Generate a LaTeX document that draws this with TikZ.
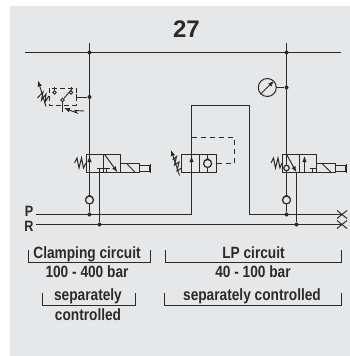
\documentclass[tikz,border=0pt]{standalone}
\usepackage{fontspec}
\setmainfont{Liberation Sans}[FakeStretch=0.84]
\newfontfamily\titlefont{Liberation Sans}
\usetikzlibrary{arrows.meta}
\definecolor{panel}{HTML}{E6E7E8}
\definecolor{ink}{HTML}{2B2A2A}
\tikzset{
  pipe/.style={draw=ink,line width=1pt},
  pilot/.style={draw=ink,line width=1pt,dash pattern=on 5pt off 4pt},
  thin/.style={draw=ink,line width=0.9pt},
  jdot/.style={circle,fill=ink,inner sep=0pt,minimum size=4pt},
  cell/.style={draw=ink,line width=1pt,minimum width=17.4pt,minimum height=18pt,inner sep=0pt},
  check/.style={draw=ink,fill=panel,circle,line width=1.2pt,minimum size=8pt,inner sep=0pt},
  contact/.style={draw=ink,fill=panel,circle,line width=.8pt,minimum size=3.5pt,inner sep=0pt},
  flow/.style={-{Latex[length=6pt,width=4.5pt]}},
  lbl/.style={anchor=base,font=\bfseries\fontsize{16.3}{16.3}\selectfont,text=ink,inner sep=0pt},
}
\begin{document}
\begin{tikzpicture}[x=1pt,y=-1pt]
\useasboundingbox (0,0) rectangle (350,356);
\fill[panel] (10,6) rectangle (350,356);
\node[lbl,font=\titlefont\bfseries\fontsize{24}{24}\selectfont] (title) at (186.5,37) {27};
\node[lbl,font=\bfseries\fontsize{15}{15}\selectfont] (plabel) at (29,216.5) {P};
\node[lbl,font=\bfseries\fontsize{15}{15}\selectfont] (rlabel) at (29,231.5) {R};

% main lines
\path (25,52.5) coordinate (topl) (341,52.5) coordinate (topr);
\path (36,214.5) coordinate (pl) (36,224.5) coordinate (rl);
\path (342,214.5) coordinate (pr) (342,224.5) coordinate (rr);
\path (89.5,43) coordinate (atop) (286.5,43) coordinate (ctop);
\node[jdot] (ja) at (89.5,52.5) {};
\node[jdot] (jc) at (286.5,52.5) {};
\node[jdot] (jsw) at (89.5,97) {};
\node[jdot] (jg) at (286.5,87.5) {};
\node[jdot] (jap) at (89.5,214.5) {};
\node[jdot] (jar) at (99.5,224.5) {};
\node[jdot] (jcp) at (286.5,214.5) {};
\node[jdot] (jcr) at (296.5,224.5) {};
\draw[pipe] (topl) -- (topr);
\draw[pipe] (atop) -- (jap);
\draw[pipe] (ctop) -- (jcp);
\draw[pipe] (rl) -- (rr);
\draw[pipe] (pl) -- (191.5,214.5) -- (191.5,105.5) -- (249.5,105.5) -- (249.5,214.5) -- (pr);
\draw[pipe] (jar) -- (99.5,168.5);
\draw[pipe] (jcr) -- (296.5,172);

% line ends
\foreach \n/\yy in {pe/214.5,re/224.5}{
  \path (342,\yy) coordinate (\n);
  \draw[pipe] (\n) + (-5,-4) -- +(5,4);
  \draw[pipe] (\n) + (-5,4) -- +(5,-4);
}

% valve a
\node[cell] (va1) at (94.7,163.3) {};
\node[cell] (va2) at (112.1,163.3) {};
\draw[pipe] (120.8,163.5) -- ++(18.8,0) -- ++(0,8.8) -- ++(-18.8,0);
\draw[thin] (126.7,163.5) -- (135,172.3);
\draw[pipe] (139.5,165.5) rectangle (149.5,171);
\draw[pipe] (150,163.5) -- (150,172.5);
\draw[pipe] (74.5,163) -- (77,158) -- (79,168) -- (81.5,158) -- (83.5,168) -- (86,163);
\draw[thin,flow] (89.5,168) -- (89.5,156);
\draw[pipe,flow] (104.5,154.3) -- (117.5,172.3);
\draw[thin] (96.5,168.5) -- (102.5,168.5);
\draw[thin] (106.5,172) -- (106.5,168.5) (103.5,168.5) -- (109.5,168.5);
\node[check] (cva) at (89.5,200) {};
\draw[thin] (86,198) -- (89.5,195) -- (93,198);

% valve b
\node[cell] (vb1) at (190.4,163.3) {};
\node[cell] (vb2) at (207.8,163.3) {};
\draw[pipe,flow] (191.5,172) -- (191.5,156);
\draw[thin] (207.6,154.3) -- (207.6,172.3);
\node[check] (cvb) at (207.6,163.5) {};
\draw[thin] (204,161.5) -- (207.6,158.5) -- (211.2,161.5);
\draw[pipe] (172.5,160) -- (176.5,156.5) -- (174.5,165) -- (179,162) -- (177,171) -- (181.7,168);
\draw[thin,flow] (179.5,175.5) -- (171,150);
\draw[pilot] (191.5,137.5) -- (234,137.5) -- (234,163.5) -- (216.7,163.5);

% valve c
\node[cell] (vc1) at (290.7,163.3) {};
\node[cell] (vc2) at (308.1,163.3) {};
\draw[pipe] (316.7,163.5) -- ++(18.5,0) -- ++(0,8.8) -- ++(-18.5,0);
\draw[thin] (322,163.5) -- (331,172.3);
\draw[pipe] (335.2,165.5) rectangle (345,171);
\draw[pipe] (346,163.5) -- (346,172.5);
\draw[pipe] (271,163) -- (273.5,158) -- (275.5,168) -- (278,158) -- (280,168) -- (282,163);
\draw[pipe,flow] (286.5,154.3) -- (296.5,172.3);
\draw[thin,flow] (304.5,172) -- (304.5,156);
\draw[thin] (312.5,172) -- (312.5,168.5) (309.5,168.5) -- (315.5,168.5);
\node[check,minimum size=5.5pt] (cvc) at (286.5,168) {};
\node[check] (cvd) at (286.5,200) {};
\draw[thin] (283,198) -- (286.5,195) -- (290,198);

% gauge
\node[draw=ink,circle,line width=1pt,minimum size=18pt,inner sep=0pt] (gauge) at (267.3,87.5) {};
\draw[pipe] (gauge) -- (jg);
\draw[thin,flow] (gauge.225) -- (gauge.45);

% pressure switch
\path (76,97) coordinate (swr);
\draw[pilot,dash pattern=on 5pt off 3pt] (49,88) rectangle (76,105);
\draw[pipe] (swr) -- (jsw);
\draw[pipe] (76,94) -- (76,100);
\node[contact] (ca) at (54.5,92.5) {};
\node[contact] (cb) at (71,92.5) {};
\node[contact] (cc) at (62.5,100) {};
\draw[thin] (ca) -- ++(0,-6);
\draw[thin] (cb) -- ++(0,-6);
\draw[thin] (cc) -- (72,89);
\draw[thin] (cc) -- ++(0,12);
\draw[pipe] (37.5,98) -- (43,92) -- (41.5,100) -- (46,94) -- (45,102) -- (49,96);
\draw[thin,flow] (46,106.5) -- (38,80.5);
\draw[thin,flow] (84,111) -- (75,110.5) -- (77,113) -- (64,108);

% labels
\draw[thin] (28,250) -- (28,262) -- (150,262) -- (150,250);
\node[lbl] (clamp) at (87,258) {Clamping circuit};
\node[lbl] (clampbar) at (87,277.7) {100 - 400 bar};
\draw[thin] (165.5,250) -- (165.5,262) -- (341,262) -- (341,250);
\node[lbl] (lp) at (253.5,258) {LP circuit};
\node[lbl] (lpbar) at (253,277.7) {40 - 100 bar};
\draw[thin] (42,293) -- (42,305.7) -- (135.5,305.7) -- (135.5,293);
\node[lbl] (sepa) at (88,300.7) {separately};
\node[lbl] (sepb) at (88,320) {controlled};
\draw[thin] (164.5,293) -- (164.5,305.7) -- (341,305.7) -- (341,293);
\node[lbl] (sepc) at (252,300.7) {separately controlled};
\end{tikzpicture}
\end{document}
